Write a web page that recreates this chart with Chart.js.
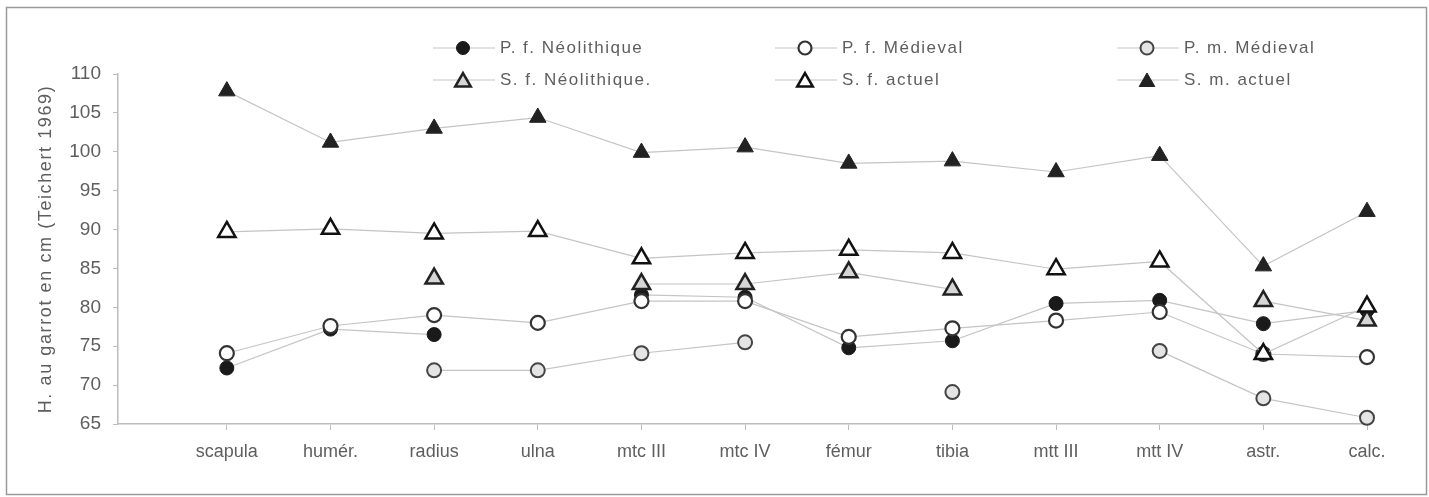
<!DOCTYPE html>
<html>
<head>
<meta charset="utf-8">
<script src="https://cdn.jsdelivr.net/npm/chart.js@4"></script>
<style>
  body { margin: 0; background: #fff; }
  #wrap { width: 1429px; height: 497px; position: relative; }
</style>
</head>
<body>
<div id="wrap"><canvas id="myChart"></canvas></div>
<script>
// Bones on the x axis
const categories = ['scapula', 'humér.', 'radius', 'ulna', 'mtc III', 'mtc IV', 'fémur', 'tibia', 'mtt III', 'mtt IV', 'astr.', 'calc.'];

// Withers height (cm) for each group, null = no value
const pfNeolithique = [72.2, 77.2, 76.5, null, 81.6, 81.3, 74.8, 75.7, 80.5, 80.9, 77.9, 79.6];
const pfMedieval    = [74.1, 77.6, 79.0, 78.0, 80.8, 80.8, 76.2, 77.3, 78.3, 79.4, 74.0, 73.6];
const pmMedieval    = [null, null, 71.9, 71.9, 74.1, 75.5, null, 69.1, null, 74.4, 68.3, 65.8];
const sfNeolithique = [null, null, 83.7, null, 83.0, 83.0, 84.5, 82.3, null, null, 80.8, 78.3];
const sfActuel      = [89.7, 90.1, 89.5, 89.8, 86.3, 87.0, 87.4, 87.0, 84.9, 85.9, 74.0, 80.1];
const smActuel      = [107.8, 101.2, 103.0, 104.4, 99.9, 100.6, 98.5, 98.8, 97.4, 99.5, 85.3, 92.3];

const yTicks = [65, 70, 75, 80, 85, 90, 95, 100, 105, 110];
const yTitle = 'H. au garrot en cm (Teichert 1969)';

const FONT = '"Liberation Sans", Arial, sans-serif';
const TEXT = '#5e5e5e';
const LINE = '#c4c4c4';

function pts(arr) {
    return arr.map((v, i) => ({ x: i, y: v }));
}

function series(label, data, style, order) {
    return Object.assign({
        label: label,
        data: pts(data),
        borderColor: LINE,
        borderWidth: 1.2,
        spanGaps: false,
        clip: false,
        order: order,
        tension: 0
    }, style);
}

const datasets = [
    series('P. f. Néolithique', pfNeolithique,
        { pointStyle: 'circle', pointRadius: 7, pointBackgroundColor: '#1a1a1a', pointBorderColor: '#1a1a1a', pointBorderWidth: 1 }, 6),
    series('P. f. Médieval', pfMedieval,
        { pointStyle: 'circle', pointRadius: 7, pointBackgroundColor: '#ffffff', pointBorderColor: '#333', pointBorderWidth: 2.2 }, 5),
    series('P. m. Médieval', pmMedieval,
        { pointStyle: 'circle', pointRadius: 7, pointBackgroundColor: '#e4e4e4', pointBorderColor: '#444', pointBorderWidth: 2 }, 4),
    series('S. f. Néolithique.', sfNeolithique,
        { pointStyle: 'triangle', pointRadius: 10, pointBackgroundColor: '#d6d6d6', pointBorderColor: '#222', pointBorderWidth: 2.5 }, 3),
    series('S. f. actuel', sfActuel,
        { pointStyle: 'triangle', pointRadius: 10, pointBackgroundColor: '#ffffff', pointBorderColor: '#111', pointBorderWidth: 2.5 }, 2),
    series('S. m. actuel', smActuel,
        { pointStyle: 'triangle', pointRadius: 9.5, pointBackgroundColor: '#222', pointBorderColor: '#222', pointBorderWidth: 1 }, 1)
];

// legend drawn by hand: 3 columns x 2 rows, sitting over the top of the plot
const legendPlugin = {
    id: 'handLegend',
    afterDraw(chart) {
        const ctx = chart.ctx;
        const cols = [433, 775, 1117];
        const rows = [48, 80];
        ctx.save();
        chart.data.datasets.forEach((ds, i) => {
            const x0 = cols[i % 3];
            const y = rows[Math.floor(i / 3)];
            ctx.strokeStyle = LINE;
            ctx.lineWidth = 1.2;
            ctx.beginPath();
            ctx.moveTo(x0, y);
            ctx.lineTo(x0 + 62, y);
            ctx.stroke();
            ctx.fillStyle = ds.pointBackgroundColor;
            ctx.strokeStyle = ds.pointBorderColor;
            ctx.lineWidth = ds.pointBorderWidth;
            Chart.helpers.drawPoint(ctx, {
                pointStyle: ds.pointStyle,
                radius: ds.pointStyle === 'circle' ? 6.5 : 9,
                rotation: 0,
                borderWidth: ds.pointBorderWidth
            }, x0 + 30, y + (ds.pointStyle === 'triangle' ? 2 : 0));
            ctx.fillStyle = TEXT;
            ctx.font = '17px ' + FONT;
            ctx.letterSpacing = '1.5px';
            ctx.textBaseline = 'middle';
            ctx.textAlign = 'left';
            ctx.fillText(ds.label, x0 + 67, y);
        });
        ctx.restore();
    }
};

// frame round the whole picture + spaced-out y title
const framePlugin = {
    id: 'frame',
    beforeDraw(chart) {
        const ctx = chart.ctx;
        ctx.save();
        ctx.fillStyle = '#fff';
        ctx.fillRect(0, 0, chart.width, chart.height);
        ctx.strokeStyle = '#9a9a9a';
        ctx.lineWidth = 1.5;
        ctx.strokeRect(6.5, 7.5, 1420, 487);
        ctx.restore();
    },
    afterDraw(chart) {
        const ctx = chart.ctx;
        const area = chart.chartArea;
        ctx.save();
        ctx.translate(46, (area.top + area.bottom) / 2);
        ctx.rotate(-Math.PI / 2);
        ctx.fillStyle = TEXT;
        ctx.font = '18px ' + FONT;
        ctx.letterSpacing = '1.6px';
        ctx.textAlign = 'center';
        ctx.textBaseline = 'middle';
        ctx.fillText(yTitle, 0, 0);
        ctx.restore();
    }
};

const ctx = document.getElementById('myChart').getContext('2d');
const myChart = new Chart(ctx, {
    type: 'line',
    data: { datasets: datasets },
    plugins: [framePlugin, legendPlugin],
    options: {
        responsive: true,
        maintainAspectRatio: false,
        animation: false,
        layout: { padding: { top: 74, right: 62, left: 0, bottom: 0 } },
        plugins: {
            legend: { display: false },
            tooltip: { enabled: false }
        },
        scales: {
            x: {
                type: 'linear',
                min: -1.05,
                max: 11,
                afterBuildTicks: axis => { axis.ticks = categories.map((c, i) => ({ value: i })); },
                afterFit: scale => { scale.height = 73; },
                ticks: {
                    autoSkip: false,
                    maxRotation: 0,
                    padding: 11,
                    color: TEXT,
                    font: { family: FONT, size: 18 },
                    callback: v => categories[v] || ''
                },
                grid: { drawOnChartArea: false, tickLength: 6, color: '#bdbdbd' },
                border: { color: '#bdbdbd', width: 1.5 }
            },
            y: {
                min: 65,
                max: 110,
                afterBuildTicks: axis => { axis.ticks = yTicks.map(v => ({ value: v })); },
                afterFit: scale => { scale.width = 118; },
                ticks: {
                    padding: 12,
                    color: TEXT,
                    font: { family: FONT, size: 19 }
                },
                grid: { drawOnChartArea: false, tickLength: 5, color: '#bdbdbd' },
                border: { color: '#bdbdbd', width: 1.5 }
            }
        }
    }
});
</script>
</body>
</html>
